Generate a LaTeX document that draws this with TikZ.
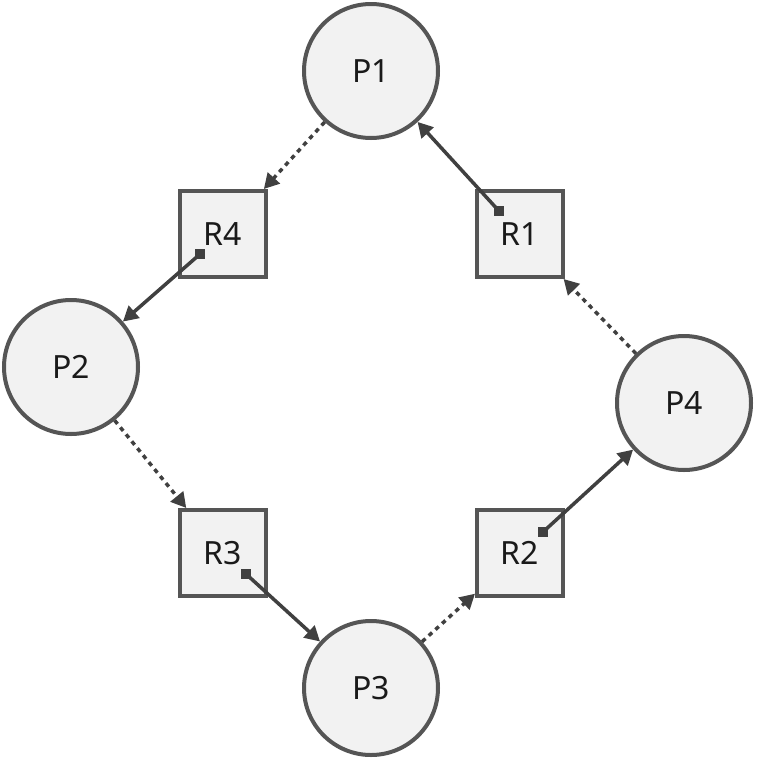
\documentclass[tikz,border=0pt]{standalone}
\usepackage{fontspec}
\setmainfont{Noto Sans}
\usetikzlibrary{arrows.meta,calc}
\definecolor{gdraw}{HTML}{555555}
\definecolor{gfill}{HTML}{F2F2F2}
\definecolor{garrow}{HTML}{404040}
\definecolor{gtext}{HTML}{1A1A1A}
\begin{document}
\begin{tikzpicture}[x=1pt,y=-1pt,
  proc/.style={circle,draw=gdraw,fill=gfill,line width=4pt,minimum size=134pt,inner sep=0pt,text=gtext,font=\fontsize{32}{38}\selectfont},
  res/.style={rectangle,draw=gdraw,fill=gfill,line width=4pt,minimum size=86pt,inner sep=0pt,text=gtext,font=\fontsize{32}{38}\selectfont},
  req/.style={draw=garrow,line width=3.5pt,dash pattern=on 4.5pt off 4.5pt,-{Triangle[length=15pt,width=16pt]}},
  asg/.style={draw=garrow,line width=3.5pt,-{Triangle[length=15pt,width=16pt]}}]
\useasboundingbox (0,0) rectangle (756,763);
\node[proc] (P1) at (371,71) {P1};
\node[proc] (P2) at (71,367) {P2};
\node[proc] (P3) at (371,688) {P3};
\node[proc] (P4) at (684,403) {P4};
\node[res] (R4) at (223,234) {R4};
\node[res] (R1) at (520,234) {R1};
\node[res] (R3) at (223,553) {R3};
\node[res] (R2) at (520,553) {R2};
% request edges (dotted)
\draw[req] (P1) -- (R4);
\draw[req] (P2) -- (R3);
\draw[req] (P3) -- (R2);
\draw[req] (P4) -- (R1);
% assignment edges (solid)
\coordinate (s4) at ($(R4.center)!31pt!(P2.center)$);
\coordinate (s1) at ($(R1.center)!31pt!(P1.center)$);
\coordinate (s3) at ($(R3.center)!31pt!(P3.center)$);
\coordinate (s2) at ($(R2.center)!31pt!(P4.center)$);
\draw[asg] (s4) -- (P2);
\draw[asg] (s1) -- (P1);
\draw[asg] (s3) -- (P3);
\draw[asg] (s2) -- (P4);
\foreach \s in {s1,s2,s3,s4}{\fill[garrow] ($(\s)+(-5,-5)$) rectangle ($(\s)+(5,5)$);}
\end{tikzpicture}
\end{document}
